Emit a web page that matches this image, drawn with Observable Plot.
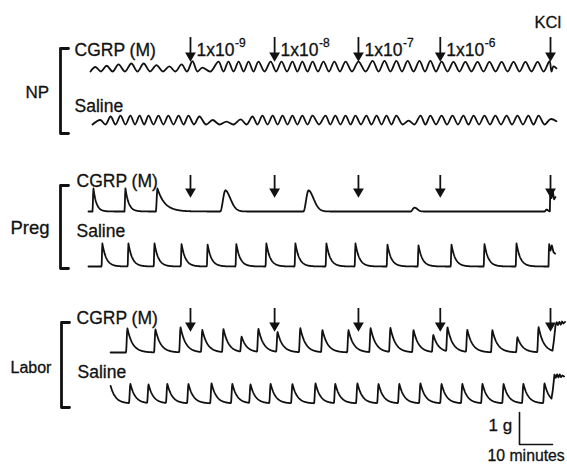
<!DOCTYPE html>
<html><head><meta charset="utf-8">
<script src="https://cdn.jsdelivr.net/npm/d3@7"></script>
<script src="https://cdn.jsdelivr.net/npm/@observablehq/plot@0.6"></script>
<style>html,body{margin:0;padding:0;background:#fff;} #chart svg{display:block}</style>
</head><body><div id="chart"></div>
<script>
// ---- Data (time in minutes from start of recording, tension in grams) ----
const doseTimes = [30.9, 56.4, 81.8, 106.6, 140.0];
const doseMantissa = ["1x10", "1x10", "1x10", "1x10"];
const doseExponent = ["-9", "-8", "-7", "-6"];
const kclLabel = "KCl";

// NP (non-pregnant) : peak times and peak amplitudes of the oscillations
const npCgrpPeakT = [2.1, 5.5, 9.1, 13.0, 16.7, 20.6, 24.5, 28.2, 31.5, 34.5, 39.4, 42.4, 45.5, 48.5, 51.5, 55.2, 58.5, 61.8, 64.8, 67.9, 71.2, 74.5, 77.9, 81.8, 86.1, 89.7, 93.3, 96.7, 100.3, 103.6, 107.0, 110.6, 114.2, 117.9, 121.5, 125.2, 128.8, 132.4, 136.1, 139.7, 140.9];
const npCgrpPeakA = [0.14, 0.18, 0.22, 0.25, 0.25, 0.2, 0.16, 0.22, 0.32, 0.12, 0.31, 0.31, 0.31, 0.31, 0.31, 0.31, 0.31, 0.31, 0.31, 0.31, 0.31, 0.31, 0.31, 0.31, 0.33, 0.33, 0.33, 0.33, 0.33, 0.33, 0.31, 0.3, 0.3, 0.3, 0.3, 0.3, 0.3, 0.3, 0.3, 0.32, 0.16];
const npSalPeakT = [3.6, 6.7, 9.7, 12.7, 15.5, 18.2, 21.2, 24.2, 27.3, 30.3, 33.6, 37.6, 41.8, 46.1, 49.7, 52.7, 55.8, 58.8, 61.8, 64.8, 67.9, 71.8, 74.8, 77.9, 80.9, 84.2, 87.3, 90.3, 93.3, 97.0, 100.6, 103.6, 107.0, 110.3, 113.6, 116.7, 120.0, 123.3, 126.7, 130.0, 133.3, 136.4, 140.0];
const npSalPeakA = [0.14, 0.25, 0.28, 0.28, 0.28, 0.28, 0.28, 0.28, 0.28, 0.28, 0.25, 0.14, 0.09, 0.16, 0.25, 0.28, 0.28, 0.28, 0.28, 0.28, 0.28, 0.28, 0.28, 0.28, 0.28, 0.28, 0.28, 0.28, 0.28, 0.12, 0.28, 0.28, 0.28, 0.28, 0.28, 0.28, 0.28, 0.28, 0.28, 0.28, 0.28, 0.28, 0.17];

// Preg : contraction times, amplitudes, rise and decay durations, decay sharpness (1 = exponential, 2 = rounded)
const pregCgrpPeakT = [1.5, 11.2, 20.9, 41.5, 66.7, 98.8, 138.8];
const pregCgrpPeakA = [0.72, 0.72, 0.72, 0.66, 0.66, 0.12, 0.06];
const pregCgrpRise  = [0.3, 0.3, 0.5, 1.6, 1.6, 1.2, 0.6];
const pregCgrpDecay = [0.9, 1.0, 2.2, 2.2, 2.2, 1.2, 0.6];
const pregCgrpShape = [1, 1, 1, 1.8, 1.8, 2, 2];
const pregCgrpKclAt = 139.8;
const pregCgrpKclT = [0, 0.15, 0.5, 0.9, 1.3, 1.7];
const pregCgrpKclV = [0, 0.72, 0.42, 0.62, 0.38, 0.45];

const pregSalPeakT = [4.2, 12.1, 20.0, 28.2, 36.1, 44.8, 53.9, 62.7, 72.1, 80.9, 90.6, 100.0, 110.0, 120.0, 129.7];
const pregSalPeakA = [0.72, 0.72, 0.72, 0.7, 0.68, 0.7, 0.72, 0.72, 0.72, 0.72, 0.68, 0.66, 0.68, 0.7, 0.72];
const pregSalKclAt = 139.4;
const pregSalKclT = [0, 0.15, 0.6, 1.0, 1.5, 2.0];
const pregSalKclV = [0, 0.72, 0.5, 0.66, 0.45, 0.4];

// Labor
const laborCgrpPeakT = [11.8, 20.3, 27.9, 34.5, 40.9, 46.4, 51.5, 57.3, 64.2, 70.9, 78.8, 85.5, 91.5, 98.5, 104.5, 108.8, 114.8, 122.4, 130.0, 136.4];
const laborCgrpPeakA = [0.75, 0.72, 0.78, 0.69, 0.72, 0.47, 0.72, 0.62, 0.75, 0.69, 0.69, 0.75, 0.75, 0.69, 0.53, 0.75, 0.69, 0.69, 0.47, 0.78];
const laborCgrpKclAt = 140.6;
const laborCgrpKclT = [0, 0.4, 0.9, 1.3, 1.7, 2.1, 2.5, 2.9, 3.3, 3.8];
const laborCgrpKclV = [0, 0.3, 0.8, 0.92, 0.84, 0.94, 0.86, 0.96, 0.9, 0.95];

const laborSalPeakT = [6.7, 12.7, 18.2, 23.9, 30.3, 37.3, 43.6, 49.1, 55.2, 61.8, 68.8, 74.8, 81.5, 87.9, 94.2, 100.6, 107.0, 113.3, 119.4, 125.8, 131.8, 138.2];
const laborSalPeakA = [0.55, 0.6, 0.58, 0.6, 0.6, 0.62, 0.6, 0.58, 0.6, 0.6, 0.62, 0.6, 0.62, 0.6, 0.6, 0.62, 0.6, 0.6, 0.6, 0.6, 0.6, 0.62];
const laborSalKclAt = 140.3;
const laborSalKclT = [0, 0.4, 0.9, 1.3, 1.7, 2.1, 2.5, 2.9, 3.3, 3.8];
const laborSalKclV = [0, 0.3, 0.82, 0.74, 0.86, 0.78, 0.88, 0.8, 0.86, 0.83];

const scaleBarMinutes = 10, scaleBarGrams = 1;

// ---- Layout (pixels) ----
const W = 567, H = 466;
const PX_PER_MIN = 3.3, PX_PER_G = 32, X0 = 88;
const X = px => (px - X0) / PX_PER_MIN;
const Y = py => (H - py) / PX_PER_G;
const FONT = "'Liberation Sans', Arial, Helvetica, sans-serif";
const INK = "#111";

function waveKnots(peakT, peakA, t0, t1, endV) {
  const pts = [{t: t0, v: 0}];
  for (let i = 0; i < peakT.length; i++) {
    pts.push({t: peakT[i], v: peakA[i]});
    if (i < peakT.length - 1) pts.push({t: (peakT[i] + peakT[i + 1]) / 2, v: 0});
  }
  pts.push({t: t1, v: endV});
  return pts;
}
const pick = (a, i) => Array.isArray(a) ? a[i] : a;
function spikeSamples(peakT, peakA, rise, decay, shape, t0, t1, kclAt, kclT, kclV) {
  const pts = [];
  const n = Math.round((t1 - t0) / 0.1);
  for (let k = 0; k <= n; k++) {
    const t = t0 + k * 0.1;
    let v = 0;
    for (let i = 0; i < peakT.length; i++) {
      const d = t - peakT[i];
      const r = pick(rise, i), tau = pick(decay, i), p = pick(shape, i);
      if (d < -r) continue;
      v += d < 0 ? peakA[i] * (1 - Math.cos(Math.PI * (d + r) / r)) / 2 : peakA[i] * Math.exp(-Math.pow(d / tau, p));
    }
    if (kclT && t >= kclAt) {
      const d = t - kclAt;
      let j = 0; while (j < kclT.length - 2 && d > kclT[j + 1]) j++;
      const f = Math.min(1, (d - kclT[j]) / (kclT[j + 1] - kclT[j]));
      v += kclV[j] + (kclV[j + 1] - kclV[j]) * f;
    }
    pts.push({t, v});
  }
  return pts;
}

const waveTraces = [
  {id: "npC", base: Y(71), pts: waveKnots(npCgrpPeakT, npCgrpPeakA, 0.6, 141.8, 0.1)},
  {id: "npS", base: Y(124), pts: waveKnots(npSalPeakT, npSalPeakA, 1.2, 141.8, 0.1)}
];
const spikeTraces = [
  {id: "pgC", base: Y(211), pts: spikeSamples(pregCgrpPeakT, pregCgrpPeakA, pregCgrpRise, pregCgrpDecay, pregCgrpShape, 0, 141.5, pregCgrpKclAt, pregCgrpKclT, pregCgrpKclV)},
  {id: "pgS", base: Y(266), pts: spikeSamples(pregSalPeakT, pregSalPeakA, 0.25, 1.2, 1, 0, 141.4, pregSalKclAt, pregSalKclT, pregSalKclV)},
  {id: "lbC", base: Y(352), pts: spikeSamples(laborCgrpPeakT, laborCgrpPeakA, 0.45, 1.6, 1, 6.7, 144.4, laborCgrpKclAt, laborCgrpKclT, laborCgrpKclV)},
  {id: "lbS", base: Y(403), pts: spikeSamples(laborSalPeakT, laborSalPeakA, 0.45, 1.5, 1, 6.7, 144.1, laborSalKclAt, laborSalKclT, laborSalKclV)}
];
const flat = trs => trs.flatMap(tr => tr.pts.map(p => ({id: tr.id, t: p.t, g: tr.base + p.v})));
const waveRows = flat(waveTraces);
const spikeRows = flat(spikeTraces);

// arrows
const arrowPanels = [{top: 37, tip: 61}, {top: 175, tip: 197}, {top: 308, tip: 331}];
const headOff = 6.0; // px from centroid to tip of the triangle head
const arrows = arrowPanels.flatMap(p => doseTimes.map(t => ({t, top: Y(p.top), base: Y(p.tip - 8), head: Y(p.tip - headOff)})));

// brackets
const brackets = [{x: 60, y1: 48, y2: 133}, {x: 60, y1: 185, y2: 268}, {x: 61, y1: 322, y2: 407}]
  .flatMap((b, i) => [[b.x + 8, b.y1], [b.x, b.y1], [b.x, b.y2], [b.x + 8, b.y2]].map(([x, y]) => ({id: i, t: X(x), g: Y(y)})));

// scale bar
const sbT = X(519), sbG = Y(444);
const scaleBar = [{t: sbT, g: sbG + scaleBarGrams}, {t: sbT, g: sbG}, {t: sbT + scaleBarMinutes, g: sbG}];

// labels (pixel positions; baseline at y)
const labels = [
  {text: "CGRP (M)", x: 74, y: 55, size: 17.5},
  {text: "Saline", x: 74, y: 111, size: 17.5},
  {text: "NP", x: 25, y: 97, size: 17},
  {text: "CGRP (M)", x: 76, y: 186, size: 17.5},
  {text: "Saline", x: 76, y: 236, size: 17.5},
  {text: "Preg", x: 10, y: 233, size: 18.5},
  {text: "CGRP (M)", x: 76, y: 323, size: 17.5},
  {text: "Saline", x: 77, y: 377, size: 17.5},
  {text: "Labor", x: 10, y: 372, size: 16},
  {text: kclLabel, x: 534, y: 27, size: 16.5},
  {text: "1 g", x: 488, y: 430, size: 17},
  {text: "10 minutes", x: 487, y: 460, size: 15.8}
];
doseMantissa.forEach((m, i) => {
  const ax = X0 + doseTimes[i] * PX_PER_MIN;
  labels.push({text: m, x: ax + 6, y: 55, size: 17.5});
  labels.push({text: doseExponent[i], x: ax + 6 + 38.5, y: 46, size: 12});
});

const chart = Plot.plot({
  width: W, height: H, margin: 0,
  style: {fontFamily: FONT, background: "#fff"},
  x: {domain: [X(0), X(W)], axis: null},
  y: {domain: [Y(H), Y(0)], axis: null},
  marks: [
    Plot.line(waveRows, {x: "t", y: "g", z: "id", stroke: INK, strokeWidth: 1.8, curve: "catmull-rom"}),
    Plot.line(spikeRows, {x: "t", y: "g", z: "id", stroke: INK, strokeWidth: 1.8}),
    Plot.ruleX(arrows, {x: "t", y1: "top", y2: "base", stroke: INK, strokeWidth: 1.8}),
    Plot.dot(arrows, {x: "t", y: "head", symbol: "triangle", rotate: 180, r: 4, fill: INK, stroke: "none"}),
    Plot.line(brackets, {x: "t", y: "g", z: "id", stroke: INK, strokeWidth: 2.8}),
    Plot.line(scaleBar, {x: "t", y: "g", stroke: INK, strokeWidth: 1.6}),
    Plot.text(labels, {x: d => X(d.x), y: d => Y(d.y), text: "text", fontSize: d => d.size, textAnchor: "start", lineAnchor: "bottom", fill: INK, stroke: INK, strokeWidth: 0.3, fontFamily: FONT})
  ]
});
document.getElementById("chart").appendChild(chart);
</script>
</body></html>
